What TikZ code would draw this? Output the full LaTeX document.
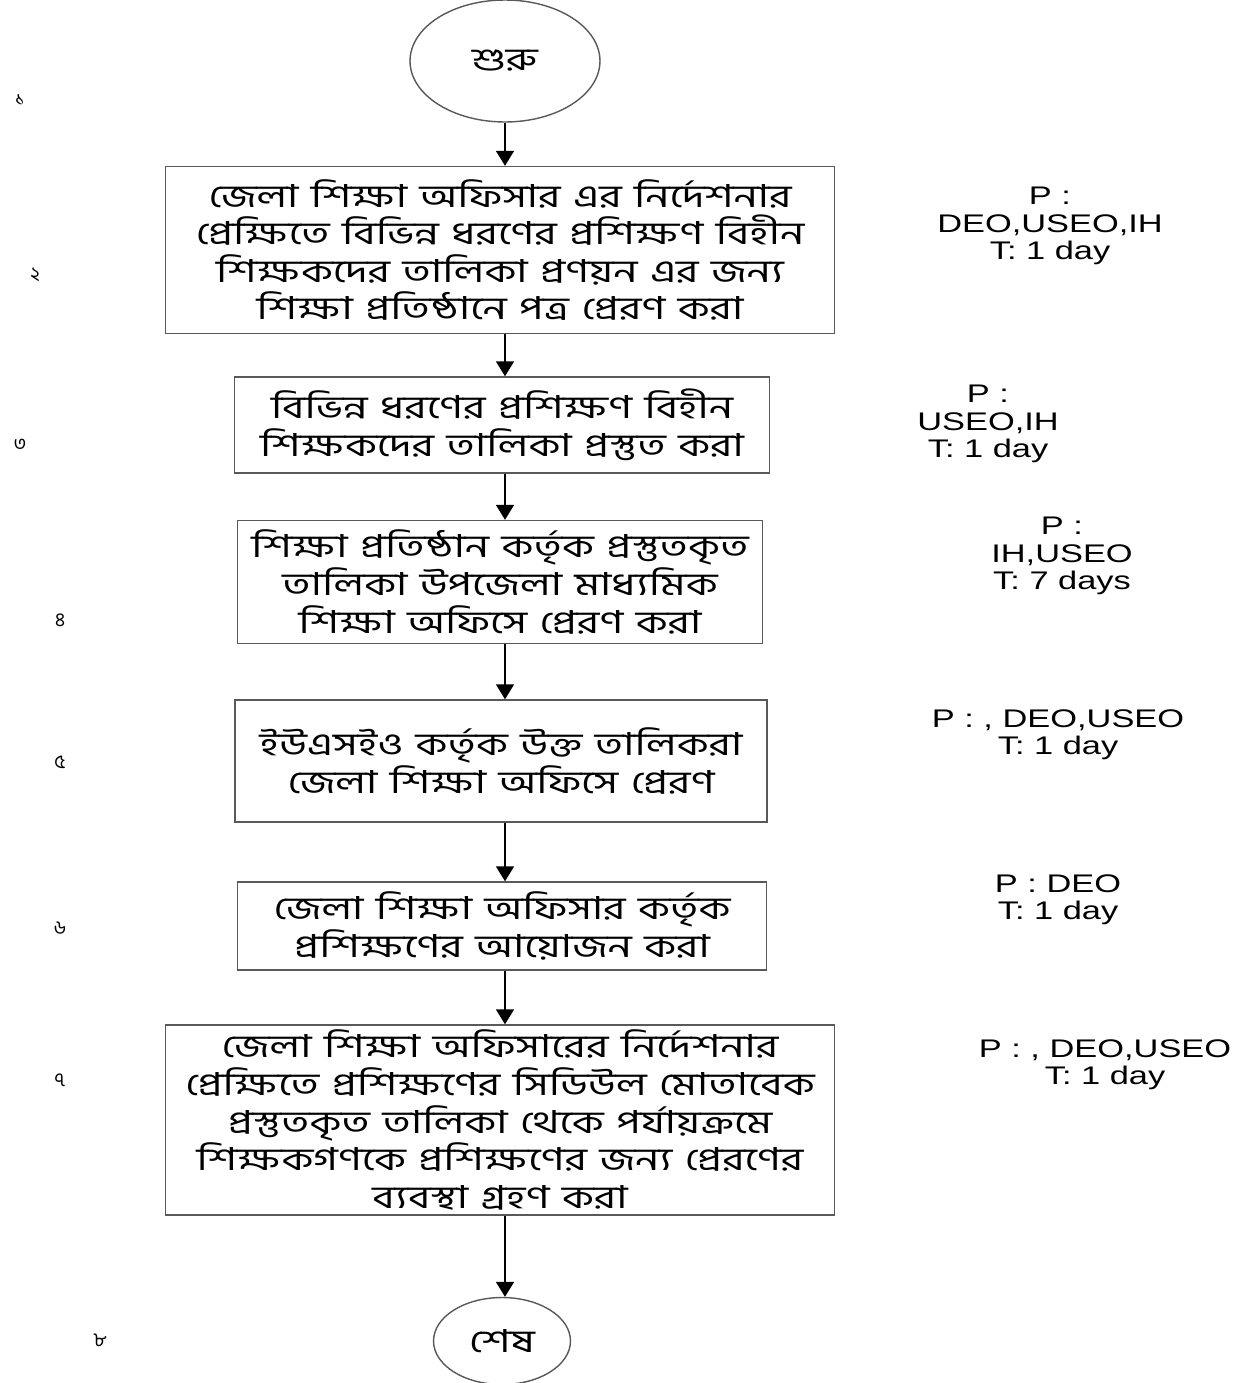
\documentclass[tikz,border=0pt]{standalone}
\usepackage{fontspec}
\setmainfont{Liberation Sans}
\newfontfamily\bnfont[Script=Bengali,FakeStretch=1.35,WordSpace=1.3]{Hind Siliguri}
\newfontfamily\numfont[Script=Bengali]{Hind Siliguri}
\newfontfamily\notefont[FakeStretch=1.35]{Liberation Sans}
\usetikzlibrary{arrows.meta,shapes.geometric}

\begin{document}
\begin{tikzpicture}[x=0.02cm,y=-0.02cm,
  stepbox/.style={draw=black!65,line width=0.8pt,rectangle,align=center,inner sep=0pt,font=\bnfont\fontsize{18}{21.4}\selectfont},
  endpt/.style={draw=black!65,line width=0.8pt,ellipse,inner sep=0pt,font=\bnfont\fontsize{18}{22}\selectfont},
  note/.style={align=center,inner sep=0pt,font=\notefont\fontsize{14.5}{15.5}\selectfont},
  num/.style={inner sep=0pt,font=\numfont\fontsize{11}{12}\selectfont},
  flow/.style={line width=0.9pt,-{Triangle[length=0.3cm,width=0.36cm]}}]
\useasboundingbox (0,0) rectangle (1247,1383);

\node[endpt,minimum width=3.8cm,minimum height=2.44cm] (start) at (505,61) {শুরু};
\node[stepbox,minimum width=13.38cm,minimum height=3.34cm] (s1) at (500,250) {জেলা শিক্ষা অফিসার এর নির্দেশনার\\ প্রেক্ষিতে বিভিন্ন ধরণের প্রশিক্ষণ বিহীন\\ শিক্ষকদের তালিকা প্রণয়ন এর জন্য\\ শিক্ষা প্রতিষ্ঠানে পত্র প্রেরণ করা};
\node[stepbox,minimum width=10.7cm,minimum height=1.92cm] (s2) at (502,425) {বিভিন্ন ধরণের প্রশিক্ষণ বিহীন\\ শিক্ষকদের তালিকা প্রস্তুত করা};
\node[stepbox,minimum width=10.5cm,minimum height=2.46cm] (s3) at (500,582) {শিক্ষা প্রতিষ্ঠান কর্তৃক প্রস্তুতকৃত\\ তালিকা উপজেলা মাধ্যমিক\\ শিক্ষা অফিসে প্রেরণ করা};
\node[stepbox,minimum width=10.64cm,minimum height=2.44cm] (s4) at (501,761) {ইউএসইও কর্তৃক উক্ত তালিকরা\\ জেলা শিক্ষা অফিসে প্রেরণ};
\node[stepbox,minimum width=10.58cm,minimum height=1.76cm] (s5) at (502,926) {জেলা শিক্ষা অফিসার কর্তৃক\\ প্রশিক্ষণের আয়োজন করা};
\node[stepbox,minimum width=13.38cm,minimum height=3.8cm] (s6) at (500,1120) {জেলা শিক্ষা অফিসারের নির্দেশনার\\ প্রেক্ষিতে প্রশিক্ষণের সিডিউল মোতাবেক\\ প্রস্তুতকৃত তালিকা থেকে পর্যায়ক্রমে\\ শিক্ষকগণকে প্রশিক্ষণের জন্য প্রেরণের\\ ব্যবস্থা গ্রহণ করা};
\node[endpt,minimum width=2.74cm,minimum height=1.74cm] (stop) at (502,1341) {শেষ};

\draw[flow] (start.south) -- (start.south |- s1.north);
\draw[flow] (s1.south -| start.south) -- (start.south |- s2.north);
\draw[flow] (s2.south -| start.south) -- (start.south |- s3.north);
\draw[flow] (s3.south -| start.south) -- (start.south |- s4.north);
\draw[flow] (s4.south -| start.south) -- (start.south |- s5.north);
\draw[flow] (s5.south -| start.south) -- (start.south |- s6.north);
\draw[flow] (s6.south -| start.south) -- (start.south |- stop.north);

\node[note] (p1) at (1050,226) {P :\\ DEO,USEO,IH\\ T: 1 day};
\node[note] (p2) at (988,424) {P :\\ USEO,IH\\ T: 1 day};
\node[note] (p3) at (1062,556) {P :\\ IH,USEO\\ T: 7 days};
\node[note] (p4) at (1058,735) {P : , DEO,USEO\\ T: 1 day};
\node[note] (p5) at (1058,900) {P : DEO\\ T: 1 day};
\node[note] (p6) at (1105,1065) {P : , DEO,USEO\\ T: 1 day};

\node[num] (n1) at (20,100) {১};
\node[num] (n2) at (35,275) {২};
\node[num] (n3) at (20,445) {৩};
\node[num] (n4) at (60,620) {৪};
\node[num] (n5) at (60,762) {৫};
\node[num] (n6) at (60,928) {৬};
\node[num] (n7) at (60,1080) {৭};
\node[num] (n8) at (100,1340) {৮};
\end{tikzpicture}
\end{document}
